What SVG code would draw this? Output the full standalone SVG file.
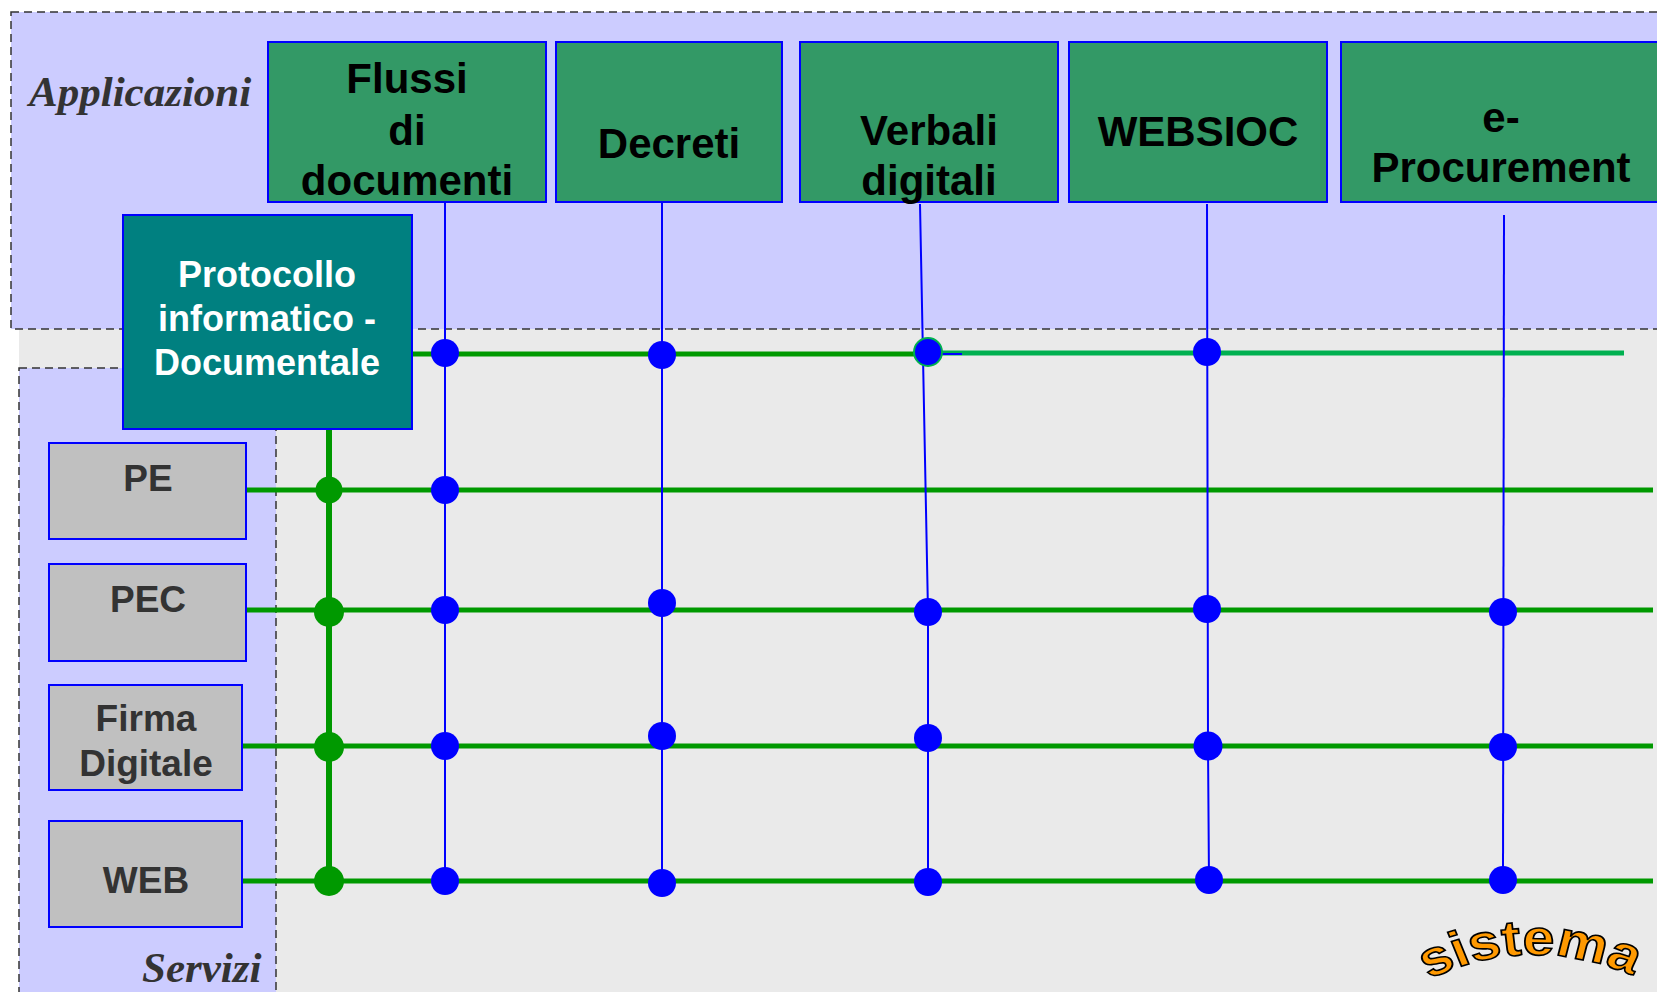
<svg xmlns="http://www.w3.org/2000/svg" width="1657" height="992" viewBox="0 0 1657 992">
  <style>
    .zone { fill: #ccccff; stroke: #333333; stroke-width: 1.5; stroke-dasharray: 8 5; }
    .zone-label { font-family: "Liberation Serif", "Times New Roman", serif; font-style: italic; font-weight: bold; font-size: 43px; fill: #333333; }
    .app rect { fill: #339966; stroke: #0000ff; stroke-width: 2; }
    .app text { font-family: "Liberation Sans", Arial, sans-serif; font-weight: bold; font-size: 42px; fill: #000000; text-anchor: middle; }
    .core rect { fill: #008080; stroke: #0000ff; stroke-width: 2; }
    .core text { font-family: "Liberation Sans", Arial, sans-serif; font-weight: bold; font-size: 36px; fill: #ffffff; text-anchor: middle; }
    .svc rect { fill: #c0c0c0; stroke: #0000ff; stroke-width: 2; }
    .svc text { font-family: "Liberation Sans", Arial, sans-serif; font-weight: bold; font-size: 37px; fill: #333333; text-anchor: middle; }
    .bus { fill: none; stroke: #009900; stroke-width: 5; }
    .bus-alt { fill: none; stroke: #00b050; stroke-width: 5; }
    .trunk { fill: none; stroke: #009900; stroke-width: 6; }
    .link { fill: none; stroke: #0000ff; stroke-width: 2; }
    .jb { fill: #0000ff; }
    .jg { fill: #009900; }
    .brand { font-family: "Liberation Sans", Arial, sans-serif; font-weight: bold; font-size: 50px; fill: #ff9900; stroke: #000000; stroke-width: 1.6; }
  </style>
  <defs>
    <path id="arc" d="M 0 980 Q 94 927 198 985"/>
  </defs>

  <!-- background layers -->
  <rect x="19" y="320" width="1660" height="700" fill="#eaeaea"/>
  <g id="zone-applicazioni">
    <rect class="zone" x="11" y="12" width="1700" height="317"/>
    <text class="zone-label" x="29" y="106">Applicazioni</text>
  </g>
  <g id="zone-servizi">
    <rect class="zone" x="19" y="368" width="257" height="700"/>
    <text class="zone-label" x="142" y="982">Servizi</text>
  </g>

  <!-- buses, links and junctions -->
  <g id="connectors">
    <line class="bus" x1="412" y1="354" x2="928" y2="354"/>
    <line class="bus-alt" x1="928" y1="353" x2="1624" y2="353"/>
    <line class="bus" x1="246" y1="490" x2="1653" y2="490"/>
    <line class="bus" x1="246" y1="610" x2="1653" y2="610"/>
    <line class="bus" x1="242" y1="746" x2="1653" y2="746"/>
    <line class="bus" x1="242" y1="881" x2="1653" y2="881"/>
    <line class="trunk" x1="329" y1="429" x2="329" y2="882"/>

    <polyline class="link" points="445,202 445,881"/>
    <polyline class="link" points="662,202 662,883"/>
    <polyline class="link" points="920,204 928,612 928,882"/>
    <line class="link" x1="928" y1="354" x2="962" y2="354"/>
    <polyline class="link" points="1207,204 1208,746 1209,880"/>
    <polyline class="link" points="1504,215 1503,880"/>

    <circle class="jg" cx="329" cy="490" r="13.5"/>
    <circle class="jg" cx="329" cy="612" r="15"/>
    <circle class="jg" cx="329" cy="747" r="15"/>
    <circle class="jg" cx="329" cy="881" r="15"/>

    <circle class="jb" cx="445" cy="353" r="14"/>
    <circle class="jb" cx="445" cy="490" r="14"/>
    <circle class="jb" cx="445" cy="610" r="14"/>
    <circle class="jb" cx="445" cy="746" r="14"/>
    <circle class="jb" cx="445" cy="881" r="14"/>

    <circle class="jb" cx="662" cy="355" r="14"/>
    <circle class="jb" cx="662" cy="603" r="14"/>
    <circle class="jb" cx="662" cy="736" r="14"/>
    <circle class="jb" cx="662" cy="883" r="14"/>

    <circle class="jb" cx="928" cy="352" r="14" stroke="#00b050" stroke-width="2"/>
    <circle class="jb" cx="928" cy="612" r="14"/>
    <circle class="jb" cx="928" cy="738" r="14"/>
    <circle class="jb" cx="928" cy="882" r="14"/>

    <circle class="jb" cx="1207" cy="352" r="14"/>
    <circle class="jb" cx="1207" cy="609" r="14"/>
    <circle class="jb" cx="1208" cy="746" r="14.5"/>
    <circle class="jb" cx="1209" cy="880" r="14"/>

    <circle class="jb" cx="1503" cy="612" r="14"/>
    <circle class="jb" cx="1503" cy="747" r="14"/>
    <circle class="jb" cx="1503" cy="880" r="14"/>
  </g>

  <!-- application nodes -->
  <g id="app-flussi" class="app">
    <rect x="268" y="42" width="278" height="160"/>
    <text x="407" y="93">Flussi</text>
    <text x="407" y="145">di</text>
    <text x="407" y="195">documenti</text>
  </g>
  <g id="app-decreti" class="app">
    <rect x="556" y="42" width="226" height="160"/>
    <text x="669" y="158">Decreti</text>
  </g>
  <g id="app-verbali" class="app">
    <rect x="800" y="42" width="258" height="160"/>
    <text x="929" y="145">Verbali</text>
    <text x="929" y="195">digitali</text>
  </g>
  <g id="app-websioc" class="app">
    <rect x="1069" y="42" width="258" height="160"/>
    <text x="1198" y="146">WEBSIOC</text>
  </g>
  <g id="app-eprocurement" class="app">
    <rect x="1341" y="42" width="330" height="160"/>
    <text x="1501" y="132">e-</text>
    <text x="1501" y="182">Procurement</text>
  </g>

  <!-- core node -->
  <g id="core-protocollo" class="core">
    <rect x="123" y="215" width="289" height="214"/>
    <text x="267" y="287">Protocollo</text>
    <text x="267" y="331">informatico -</text>
    <text x="267" y="375">Documentale</text>
  </g>

  <!-- service nodes -->
  <g id="svc-pe" class="svc">
    <rect x="49" y="443" width="197" height="96"/>
    <text x="148" y="491">PE</text>
  </g>
  <g id="svc-pec" class="svc">
    <rect x="49" y="564" width="197" height="97"/>
    <text x="148" y="612">PEC</text>
  </g>
  <g id="svc-firma" class="svc">
    <rect x="49" y="685" width="193" height="105"/>
    <text x="146" y="731">Firma</text>
    <text x="146" y="776">Digitale</text>
  </g>
  <g id="svc-web" class="svc">
    <rect x="49" y="821" width="193" height="106"/>
    <text x="146" y="893">WEB</text>
  </g>

  <!-- arched word mark -->
  <g id="sistema" transform="translate(1428,0) scale(1.14,1)">
    <text class="brand"><textPath href="#arc" startOffset="1">sistema</textPath></text>
  </g>
</svg>
